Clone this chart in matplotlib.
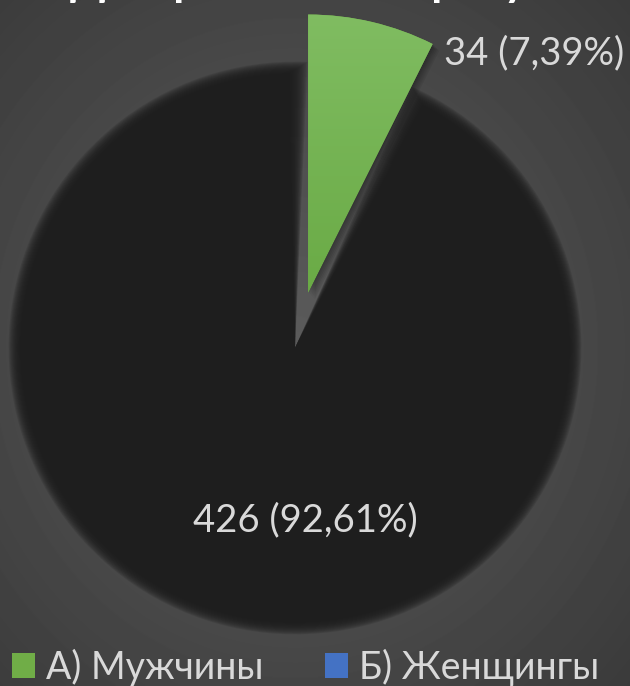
import numpy as np
import matplotlib.pyplot as plt
from matplotlib.patches import Wedge, Patch
from matplotlib.colors import LinearSegmentedColormap

# ---------------- data ----------------
labels = ["А) Мужчины", "Б) Женщингы"]
counts = [34, 426]
shares = ["7,39%", "92,61%"]
pie_colors = ["#70AD47", "#1e1e1e"]
legend_colors = ["#70AD47", "#4472C4"]
title = "Диаграмма по опросу"

plt.rcParams["font.family"] = ["Lato", "DejaVu Sans"]

# ---------------- canvas (pixel geometry) ----------------
W, H = 630, 686
cx, cy, R = 295, 348, 278  # pie centre / radius in pixels from top-left

fig = plt.figure(figsize=(W / 100, H / 100), dpi=100)
ax = fig.add_axes([0, 0, 1, 1])

# radial background, lighter in the middle
yy, xx = np.mgrid[0:H, 0:W]
d = np.hypot((xx - cx) / W, (yy - cy) / H)
bg = np.clip(0.36 - 0.18 * d, 0, 1)
ax.imshow(bg, cmap="gray", vmin=0, vmax=1, zorder=0, interpolation="bilinear",
          extent=(-cx / R, (W - cx) / R, -(H - cy) / R, cy / R), aspect="auto")

# ---------------- pie ----------------
wedges, _ = ax.pie(counts, colors=pie_colors, startangle=90, counterclock=False,
                   explode=[0.205, 0], radius=1, center=(0, 0),
                   wedgeprops=dict(linewidth=0))
ax.set_xlim(-cx / R, (W - cx) / R)
ax.set_ylim(-(H - cy) / R, cy / R)
ax.set_aspect("auto")
ax.axis("off")

# dark slice: soft blurred edges (shadow look)
dark = wedges[1]
dark.set_visible(False)
n = 18
for k in range(n):
    f = (k - n / 2) / n  # -0.5 .. 0.5
    ax.add_patch(Wedge(dark.center, dark.r * (1 - 0.06 * f),
                       dark.theta1 + 5.0 * f, dark.theta2 - 5.0 * f,
                       facecolor=pie_colors[1], edgecolor="none",
                       alpha=0.17, zorder=1))

# green slice: drop shadow + vertical gradient
green = wedges[0]
gx, gy = green.center
for k in range(6):
    off = 0.004 * (k + 1)
    ax.add_patch(Wedge((gx + off, gy - off), green.r, green.theta1, green.theta2,
                       facecolor="black", edgecolor="none", alpha=0.06, zorder=2))
green.set_zorder(3)
grad = np.linspace(0, 1, 100)[:, None]
gcmap = LinearSegmentedColormap.from_list("g", ["#82be64", "#68a943"])
gim = ax.imshow(grad, cmap=gcmap, aspect="auto", zorder=4,
                extent=(gx - 0.1, gx + 1.1, gy - 0.1, gy + 1.1))
gim.set_clip_path(green)

# ---------------- labels ----------------
lab_col = "#d9d9d9"
ax.text((534 - cx) / R, (cy - 53) / R, f"{counts[0]} ({shares[0]})",
        color=lab_col, fontsize=27.5, ha="center", va="center", zorder=5)
ax.text((305 - cx) / R, (cy - 520) / R, f"{counts[1]} ({shares[1]})",
        color=lab_col, fontsize=27.5, ha="center", va="center", zorder=5)

# title, mostly cut off by the top edge
fig.text(299 / W, 1 + 4 / H, title, color="white", fontsize=32,
         fontweight="bold", ha="center", va="baseline")

# ---------------- legend ----------------
handles = [Patch(facecolor=c, edgecolor="none") for c in legend_colors]
ax.legend(handles, labels, loc="center left", bbox_to_anchor=(12 / W, 1 - 667 / H),
          bbox_transform=fig.transFigure, ncol=2, frameon=False,
          fontsize=27, labelcolor=lab_col, handlelength=0.62, handleheight=0.62,
          handletextpad=0.3, columnspacing=1.62, borderpad=0, borderaxespad=0)

fig.savefig("out.png", dpi=100)
